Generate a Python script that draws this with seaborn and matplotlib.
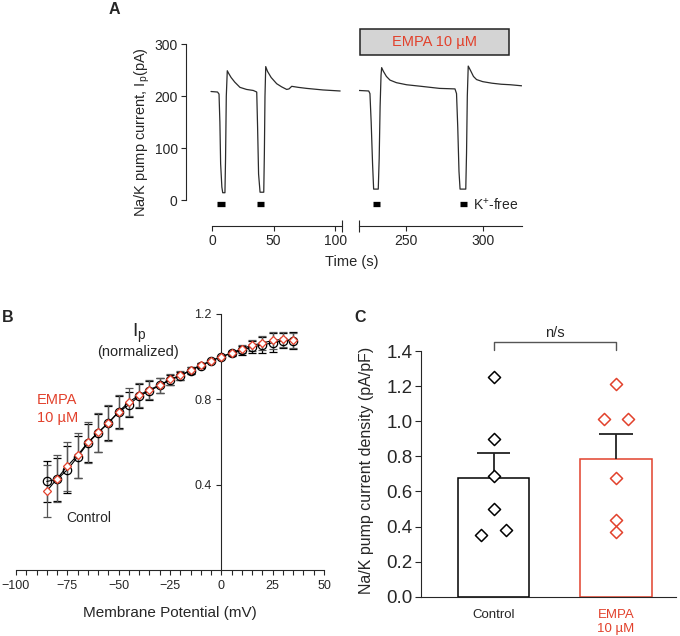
import numpy as np
import pandas as pd
import matplotlib
matplotlib.use('Agg')
import matplotlib.pyplot as plt
from matplotlib.patches import Rectangle
import seaborn as sns

# ---- panel A: example current trace (two segments of a broken time axis)
seg1_time = [-0.8, 4.5, 5.7, 6.4, 7.0, 8.0, 8.7, 10.5, 11.0, 11.6,
             12.4, 13.5, 15.5, 18.5, 22.7, 28, 33.5, 36.3, 37.0, 37.8,
             39.0, 42.0, 42.5, 43.0, 43.6, 45, 48, 52.5, 56.5, 60.6,
             62.5, 64.7, 70, 76.8, 90, 104]
seg1_current = [209, 208, 204, 150, 70, 25, 14, 14, 80, 200,
                249, 244, 236, 227, 217, 213, 211, 208, 140, 50,
                15, 15, 90, 200, 257, 248, 236, 224, 218, 213,
                214, 219, 217, 215, 212, 210]
seg2_time = [219.7, 226.0, 226.8, 227.6, 228.5, 229.2, 232.2, 232.8, 233.4, 234.0,
             234.4, 235.5, 237.5, 239.8, 244, 250.6, 260, 272, 282, 283.0,
             283.8, 284.6, 285.3, 289.0, 289.5, 290.0, 290.6, 292, 294, 296,
             300, 306, 312, 318, 325.3]
seg2_current = [211, 210, 205, 150, 70, 21, 21, 80, 180, 240,
                255, 248, 238, 231, 226, 222, 219, 215, 214, 205,
                140, 55, 21, 21, 90, 200, 258, 250, 238, 232,
                228, 225, 223, 222, 220]
kfree_start = [3.8, 36.5, 228.7, 285.0]
kfree_end = [10.5, 42.0, 233.6, 290.0]
empa_window = (220.3, 317.0)

# ---- panel B: normalized I-V
voltage = list(range(-85, 40, 5))
ctrl_ip = [0.415, 0.425, 0.47, 0.53, 0.595, 0.643, 0.69, 0.74, 0.775, 0.815,
           0.84, 0.865, 0.89, 0.91, 0.935, 0.958, 0.98, 1.0, 1.015, 1.03,
           1.045, 1.055, 1.065, 1.075, 1.075]
ctrl_sem = [0.098, 0.10, 0.11, 0.10, 0.09, 0.09, 0.08, 0.075, 0.06, 0.055,
            0.045, 0.035, 0.025, 0.02, 0.015, 0.01, 0.005, 0.0, 0.01, 0.022,
            0.028, 0.039, 0.044, 0.034, 0.039]
empa_ip = [0.37, 0.428, 0.487, 0.538, 0.598, 0.645, 0.69, 0.742, 0.787, 0.82,
           0.845, 0.867, 0.893, 0.912, 0.937, 0.96, 0.98, 1.0, 1.018, 1.037,
           1.053, 1.064, 1.076, 1.081, 1.076]
empa_sem = [0.12, 0.11, 0.115, 0.105, 0.095, 0.09, 0.085, 0.08, 0.065, 0.055,
            0.045, 0.035, 0.025, 0.02, 0.015, 0.01, 0.005, 0.0, 0.01, 0.02,
            0.025, 0.035, 0.04, 0.035, 0.035]

# ---- panel C: current density per cell
groups = ['Control', 'EMPA\n10 µM']
ctrl_density = [1.25, 0.897, 0.69, 0.50, 0.351, 0.38]
empa_density = [1.212, 1.013, 1.013, 0.674, 0.437, 0.367]

RED = '#e2412c'
W, H = 680, 636

sns.set_style('ticks')
plt.rcParams['font.family'] = ['Liberation Sans', 'DejaVu Sans']
plt.rcParams['mathtext.fontset'] = 'custom'
plt.rcParams['mathtext.rm'] = 'Liberation Sans'
plt.rcParams['mathtext.it'] = 'Liberation Sans:italic'
plt.rcParams['axes.linewidth'] = 0.8
plt.rcParams['xtick.major.width'] = 0.8
plt.rcParams['ytick.major.width'] = 0.8
plt.rcParams['xtick.minor.width'] = 0.8


def px_rect(l, t, r, b):
    return [l / W, 1 - b / H, (r - l) / W, (b - t) / H]


def spread(values, tol=0.06, step=0.2):
    # spread points that sit at about the same height side by side
    order = np.argsort(values)
    offsets = np.zeros(len(values))
    cluster = [order[0]]
    for i in list(order[1:]) + [None]:
        if i is not None and values[i] - values[cluster[-1]] < tol:
            cluster.append(i)
            continue
        n = len(cluster)
        for k, j in enumerate(cluster):
            offsets[j] = (k - (n - 1) / 2) * step
        if i is not None:
            cluster = [i]
    return offsets


fig = plt.figure(figsize=(W / 100, H / 100), dpi=100)

# ================= A
ax1 = fig.add_axes(px_rect(186, 23.5, 342, 225.7))
ax2 = fig.add_axes(px_rect(359, 23.5, 522, 225.7))
for ax, t, cur in ((ax1, seg1_time, seg1_current), (ax2, seg2_time, seg2_current)):
    sns.lineplot(x=t, y=cur, ax=ax, color='#2b2b2b', lw=0.9, sort=False, estimator=None)
    ax.set_ylim(-49.5, 340)
    ax.spines['top'].set_visible(False)
    ax.spines['right'].set_visible(False)
    ax.tick_params(labelsize=10, length=3.5, pad=2.5, direction='out')
    ax.tick_params(axis='x', which='minor', direction='inout', length=8)
for s, e in zip(kfree_start, kfree_end):
    ax = ax1 if s < 150 else ax2
    ax.hlines(-8, s, e, color='black', lw=3.8)

ax1.set_xlim(-21.1, 105.5)
ax1.spines['left'].set_bounds(0, 300)
ax1.spines['bottom'].set_bounds(0, 105.5)
ax1.set_yticks([0, 100, 200, 300])
ax1.set_xticks([0, 50, 100])
ax1.set_xticks([105.5], minor=True)

ax2.set_xlim(219.7, 325.5)
ax2.spines['left'].set_visible(False)
ax2.set_yticks([])
ax2.spines['bottom'].set_bounds(219.7, 325.5)
ax2.set_xticks([250, 300])
ax2.set_xticks([219.7], minor=True)
ax2.add_patch(Rectangle((empa_window[0], 279), empa_window[1] - empa_window[0], 50,
                        facecolor='#d4d4d4', edgecolor='#222222', lw=1.1, clip_on=False))
ax2.text(sum(empa_window) / 2, 304, 'EMPA 10 µM', color=RED, fontsize=10.5,
         ha='center', va='center')
ax2.text(293.5, -8, 'K$^{+}$-free', fontsize=10, ha='left', va='center')

fig.text(142 / W, 1 - 132 / H, 'Na/K pump current, I$_\\mathregular{p}$(pA)', rotation=90,
         ha='center', va='center', fontsize=10.5)
fig.text(352 / W, 1 - 262 / H, 'Time (s)', ha='center', va='center', fontsize=10.5)

# ================= B
axb = fig.add_axes(px_rect(16, 314, 324, 570))
axb.errorbar(voltage, ctrl_ip, yerr=ctrl_sem, fmt='none', ecolor='black',
             elinewidth=0.9, capsize=3, capthick=0.9, zorder=2)
axb.errorbar(voltage, empa_ip, yerr=empa_sem, fmt='none', ecolor='#555555',
             elinewidth=0.9, capsize=3, capthick=0.9, zorder=2)
sns.lineplot(x=voltage, y=ctrl_ip, ax=axb, color='black', lw=0.8, marker='o',
             markersize=6, markerfacecolor='none', markeredgecolor='black',
             markeredgewidth=0.9, zorder=3)
sns.lineplot(x=voltage, y=empa_ip, ax=axb, color='black', lw=0.8, marker='D',
             markersize=4.5, markerfacecolor='white', markeredgecolor=RED,
             markeredgewidth=0.9, zorder=4)
axb.set_xlim(-100, 50)
axb.set_ylim(0, 1.2)
axb.spines['left'].set_position(('data', 0))
axb.spines['top'].set_visible(False)
axb.spines['right'].set_visible(False)
axb.set_xticks(range(-100, 51, 25))
axb.set_xticks(range(-100, 51, 5), minor=True)
axb.set_yticks([0.4, 0.8, 1.2])
axb.set_yticklabels(['0.4', '0.8', '1.2'])
axb.tick_params(labelsize=9, length=3.5, direction='out')
axb.tick_params(axis='x', which='minor', length=3.5, direction='out')
fig.text(170 / W, 1 - 613 / H, 'Membrane Potential (mV)', ha='center', va='center', fontsize=11)
fig.text(139 / W, 1 - 333 / H, 'I$_\\mathregular{p}$', ha='center', va='center', fontsize=14)
fig.text(138 / W, 1 - 352 / H, '(normalized)', ha='center', va='center', fontsize=10.5)
fig.text(37 / W, 1 - 409 / H, 'EMPA\n10 µM', color=RED, ha='left', va='center',
         fontsize=10.5, linespacing=1.3)
fig.text(66 / W, 1 - 518 / H, 'Control', ha='left', va='center', fontsize=10)

# ================= C
axc = fig.add_axes(px_rect(421.3, 351, 676, 596.7))
df_c = pd.DataFrame({'group': [groups[0]] * len(ctrl_density) + [groups[1]] * len(empa_density),
                     'density': ctrl_density + empa_density})
stats = df_c.groupby('group', sort=False)['density'].agg(['mean', 'sem'])
sns.barplot(data=df_c, x='group', y='density', order=groups, errorbar=None,
            width=0.585, color='white', ax=axc)
for patch, c in zip(axc.patches, ['black', RED]):
    patch.set_facecolor('white')
    patch.set_edgecolor(c)
    patch.set_linewidth(1.1)
xs = np.arange(len(groups))
tops = stats['mean'].values + stats['sem'].values
axc.vlines(xs, stats['mean'].values, tops, color='#222222', lw=1.3, zorder=2)
axc.hlines(tops, xs - 0.137, xs + 0.137, color='#222222', lw=1.3, zorder=2)
for i, (vals, c) in enumerate(((ctrl_density, 'black'), (empa_density, RED))):
    sns.scatterplot(x=i + spread(np.array(vals)), y=vals, ax=axc, marker='D', s=38,
                    facecolor='white', edgecolor=c, linewidth=1.1, zorder=3)
axc.set_xlim(-0.59, 1.49)
axc.set_ylim(0, 1.4)
axc.spines['top'].set_visible(False)
axc.spines['right'].set_visible(False)
axc.set_yticks(np.arange(0, 1.41, 0.2))
axc.set_yticklabels([f'{v:.1f}' for v in np.arange(0, 1.41, 0.2)])
axc.tick_params(axis='y', labelsize=13.5, length=4, pad=2.5, direction='out')
axc.tick_params(axis='x', labelsize=9.5, length=0, pad=9)
axc.get_xticklabels()[1].set_color(RED)
axc.set_xlabel('')
axc.set_ylabel('')
axc.plot([0, 0, 1, 1], [1.405, 1.45, 1.45, 1.405], color='#555555', lw=1, clip_on=False)
axc.text(0.5, 1.5, 'n/s', ha='center', va='center', fontsize=10.5)
fig.text(366 / W, 1 - 470 / H, 'Na/K pump current density (pA/pF)', rotation=90,
         ha='center', va='center', fontsize=11.5)

# panel letters
for letter, (x, y) in zip('ABC', [(114, 9), (8, 318), (360, 317)]):
    fig.text(x / W, 1 - y / H, letter, ha='center', va='center', fontsize=11.5, weight='bold')

fig.savefig('out.png', dpi=100)
